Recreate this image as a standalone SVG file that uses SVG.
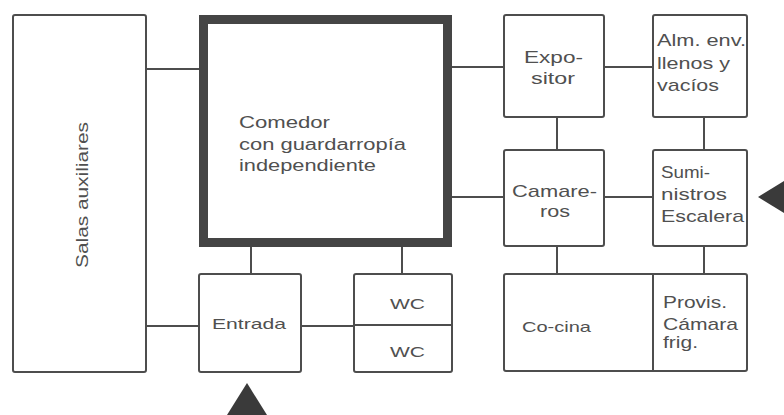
<svg xmlns="http://www.w3.org/2000/svg" width="784" height="415" viewBox="0 0 784 415">
<style>
.box{fill:#fff;stroke:#4d4d4d;stroke-width:2}
.thick{fill:#fff;stroke:#454545;stroke-width:9}
.div{stroke:#4d4d4d;stroke-width:2;fill:none}
.con line{stroke:#4d4d4d;stroke-width:2}
.t{font-family:"Liberation Sans",Arial,sans-serif;fill:#505050;font-size:16px}
.r{font-size:17px}
.s{font-size:15px}
.tri{fill:#3a3a3a}
</style>
<rect width="784" height="415" fill="#fff"/>
<g id="connectors" class="con">
<line x1="146" y1="69" x2="199" y2="69"/>
<line x1="452" y1="67" x2="504" y2="67"/>
<line x1="604" y1="67" x2="653" y2="67"/>
<line x1="452" y1="197" x2="504" y2="197"/>
<line x1="604" y1="197" x2="653" y2="197"/>
<line x1="557" y1="117" x2="557" y2="150"/>
<line x1="704" y1="117" x2="704" y2="150"/>
<line x1="557" y1="246" x2="557" y2="274"/>
<line x1="704" y1="246" x2="704" y2="274"/>
<line x1="251" y1="247" x2="251" y2="274"/>
<line x1="402" y1="247" x2="402" y2="274"/>
<line x1="146" y1="326" x2="199" y2="326"/>
<line x1="301" y1="326" x2="354" y2="326"/>
</g>
<g id="salas">
<rect class="box" x="13" y="15" width="133" height="357" rx="2"/>
<text class="t" transform="translate(88,195) rotate(-90)" text-anchor="middle" textLength="146" lengthAdjust="spacingAndGlyphs">Salas auxiliares</text>
</g>
<g id="comedor">
<rect class="thick" x="203.5" y="19.5" width="244" height="223"/>
<text class="t" x="239" y="128" textLength="91" lengthAdjust="spacingAndGlyphs">Comedor</text>
<text class="t" x="239" y="150" textLength="167" lengthAdjust="spacingAndGlyphs">con guardarropía</text>
<text class="t" x="239" y="171" textLength="137" lengthAdjust="spacingAndGlyphs">independiente</text>
</g>
<g id="entrada">
<rect class="box" x="199" y="274" width="102" height="98" rx="2"/>
<text class="t s" x="212" y="329" textLength="74" lengthAdjust="spacingAndGlyphs">Entrada</text>
</g>
<g id="wc">
<rect class="box" x="354" y="274" width="98" height="98" rx="2"/>
<line class="div" x1="354" y1="325" x2="452" y2="325"/>
<text class="t s" x="390" y="309" textLength="35" lengthAdjust="spacingAndGlyphs">WC</text>
<text class="t s" x="390" y="357" textLength="35" lengthAdjust="spacingAndGlyphs">WC</text>
</g>
<g id="expositor">
<rect class="box" x="504" y="15" width="100" height="102" rx="2"/>
<text class="t r" x="524" y="63" textLength="59" lengthAdjust="spacingAndGlyphs">Expo-</text>
<text class="t r" x="531" y="84" textLength="44" lengthAdjust="spacingAndGlyphs">sitor</text>
</g>
<g id="almacen">
<rect class="box" x="653" y="15" width="94" height="102" rx="2"/>
<text class="t r" x="657" y="46" textLength="89" lengthAdjust="spacingAndGlyphs">Alm. env.</text>
<text class="t r" x="657" y="69" textLength="73" lengthAdjust="spacingAndGlyphs">llenos y</text>
<text class="t r" x="657" y="91" textLength="62" lengthAdjust="spacingAndGlyphs">vacíos</text>
</g>
<g id="camareros">
<rect class="box" x="504" y="150" width="100" height="96" rx="2"/>
<text class="t r" x="512" y="197" textLength="85" lengthAdjust="spacingAndGlyphs">Camare-</text>
<text class="t r" x="540" y="217" textLength="30" lengthAdjust="spacingAndGlyphs">ros</text>
</g>
<g id="suministros">
<rect class="box" x="653" y="150" width="94" height="96" rx="2"/>
<text class="t r" x="661" y="178" textLength="49" lengthAdjust="spacingAndGlyphs">Sumi-</text>
<text class="t r" x="661" y="200" textLength="66" lengthAdjust="spacingAndGlyphs">nistros</text>
<text class="t r" x="661" y="222" textLength="83" lengthAdjust="spacingAndGlyphs">Escalera</text>
</g>
<g id="cocina">
<rect class="box" x="504" y="274" width="243" height="97" rx="2"/>
<line class="div" x1="653" y1="274" x2="653" y2="371"/>
<text class="t s" x="522" y="332" textLength="69" lengthAdjust="spacingAndGlyphs">Co-cina</text>
</g>
<g id="provisiones">
<text class="t r" x="663" y="308" textLength="64" lengthAdjust="spacingAndGlyphs">Provis.</text>
<text class="t r" x="663" y="330" textLength="75" lengthAdjust="spacingAndGlyphs">Cámara</text>
<text class="t r" x="663" y="348" textLength="35" lengthAdjust="spacingAndGlyphs">frig.</text>
</g>
<g id="accesos">
<polygon class="tri" points="758,197 784,181 784,213"/>
<polygon class="tri" points="247,383 227,415 267,415"/>
</g>
</svg>
